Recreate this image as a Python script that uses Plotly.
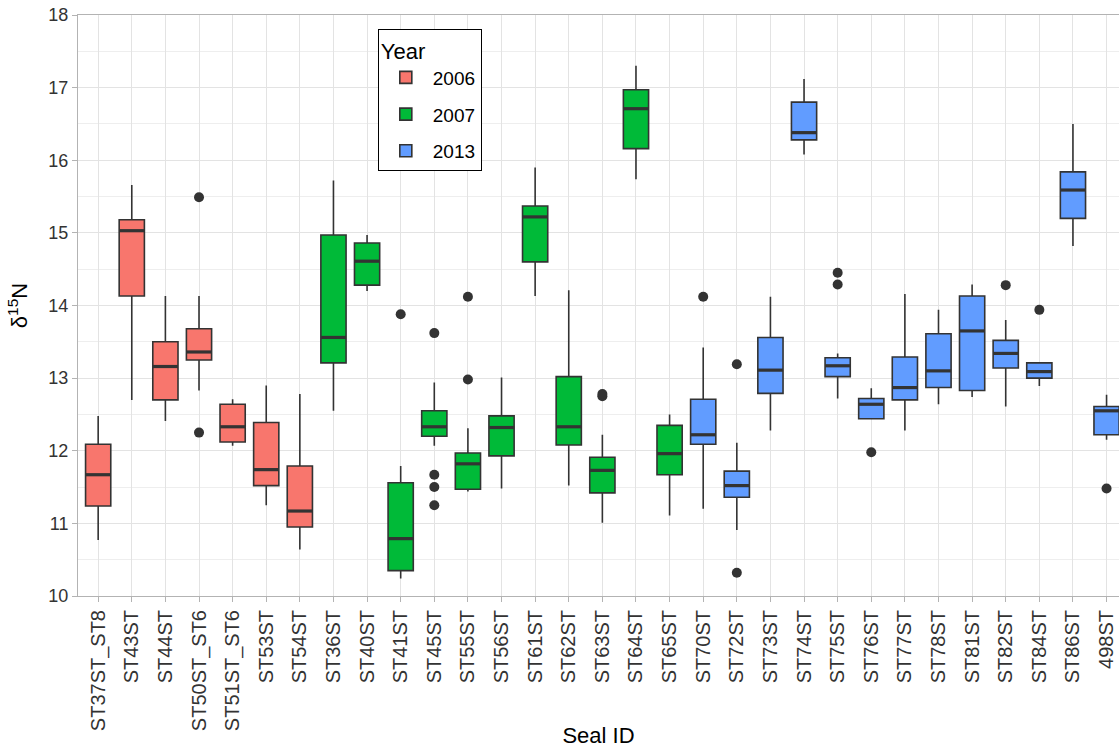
import plotly.graph_objects as go

# ---------------- data ----------------
seal_ids = ["ST37ST_ST8", "ST43ST", "ST44ST", "ST50ST_ST6", "ST51ST_ST6", "ST53ST", "ST54ST",
            "ST36ST", "ST40ST", "ST41ST", "ST45ST", "ST55ST", "ST56ST", "ST61ST", "ST62ST",
            "ST63ST", "ST64ST", "ST65ST",
            "ST70ST", "ST72ST", "ST73ST", "ST74ST", "ST75ST", "ST76ST", "ST77ST", "ST78ST",
            "ST81ST", "ST82ST", "ST84ST", "ST86ST", "498ST"]
years = ["2006", "2006", "2006", "2006", "2006", "2006", "2006",
         "2007", "2007", "2007", "2007", "2007", "2007", "2007", "2007", "2007", "2007", "2007",
         "2013", "2013", "2013", "2013", "2013", "2013", "2013", "2013", "2013", "2013", "2013",
         "2013", "2013"]
lower = [10.77, 12.70, 12.41, 12.83, 12.07, 11.25, 10.64,
         12.55, 14.20, 10.24, 12.07, 11.44, 11.48, 14.13, 11.52, 11.01, 15.74, 11.11,
         11.20, 10.91, 12.28, 16.08, 12.72, 12.44, 12.28, 12.64, 12.74, 12.61, 12.89, 14.82, 12.15]
q1 = [11.24, 14.13, 12.70, 13.25, 12.12, 11.52, 10.95,
      13.21, 14.28, 10.35, 12.20, 11.47, 11.93, 14.60, 12.08, 11.42, 16.16, 11.67,
      12.09, 11.36, 12.79, 16.28, 13.02, 12.44, 12.70, 12.87, 12.83, 13.14, 13.00, 15.20, 12.22]
median = [11.67, 15.03, 13.16, 13.36, 12.33, 11.74, 11.17,
          13.56, 14.61, 10.79, 12.33, 11.82, 12.32, 15.22, 12.33, 11.73, 16.71, 11.96,
          12.22, 11.52, 13.11, 16.38, 13.17, 12.64, 12.87, 13.10, 13.65, 13.34, 13.09, 15.59, 12.55]
q3 = [12.09, 15.18, 13.50, 13.68, 12.64, 12.39, 11.79,
      14.97, 14.86, 11.56, 12.55, 11.97, 12.48, 15.37, 13.02, 11.91, 16.97, 12.35,
      12.71, 11.72, 13.56, 16.80, 13.28, 12.72, 13.29, 13.61, 14.13, 13.52, 13.21, 15.84, 12.61]
upper = [12.48, 15.66, 14.13, 14.13, 12.71, 12.90, 12.78,
         15.72, 14.97, 11.79, 12.94, 12.31, 13.01, 15.90, 14.21, 12.22, 17.30, 12.50,
         13.42, 12.11, 14.12, 17.12, 13.34, 12.86, 14.16, 13.94, 14.29, 13.80, 13.21, 16.50, 12.77]

outlier_ids = ["ST50ST_ST6", "ST50ST_ST6", "ST41ST", "ST45ST", "ST45ST", "ST45ST", "ST45ST",
               "ST55ST", "ST55ST", "ST63ST", "ST63ST", "ST70ST", "ST72ST", "ST72ST",
               "ST75ST", "ST75ST", "ST76ST", "ST82ST", "ST84ST", "498ST"]
outlier_vals = [15.49, 12.25, 13.88, 13.62, 11.67, 11.50, 11.25,
                14.12, 12.98, 12.75, 12.78, 14.12, 13.19, 10.32,
                14.45, 14.29, 11.98, 14.28, 13.94, 11.48]

year_levels = ["2006", "2007", "2013"]
year_colors = {"2006": "#F8766D", "2007": "#00BA38", "2013": "#619CFF"}

# ---------------- styling ----------------
DARK = "#333333"
BOX_W = 0.75
FONT = "Liberation Sans, Arial, sans-serif"

fig = go.Figure()
pos = list(range(len(seal_ids)))

for yr in year_levels:
    idx = [i for i, y in enumerate(years) if y == yr]
    fig.add_trace(go.Box(
        x=[pos[i] for i in idx],
        q1=[q1[i] for i in idx],
        median=[median[i] for i in idx],
        q3=[q3[i] for i in idx],
        lowerfence=[lower[i] for i in idx],
        upperfence=[upper[i] for i in idx],
        name=yr, legendgroup=yr,
        fillcolor=year_colors[yr],
        line=dict(color=DARK, width=1.6),
        whiskerwidth=0, width=BOX_W,
        boxpoints=False, hoverinfo="skip",
    ))

# thicker median bars (ggplot style)
mx, my = [], []
for i, m in enumerate(median):
    mx += [pos[i] - BOX_W / 2, pos[i] + BOX_W / 2, None]
    my += [m, m, None]
fig.add_trace(go.Scatter(x=mx, y=my, mode="lines", line=dict(color=DARK, width=3.2),
                         showlegend=False, hoverinfo="skip"))

# outliers
fig.add_trace(go.Scatter(
    x=[seal_ids.index(s) for s in outlier_ids], y=outlier_vals, mode="markers",
    marker=dict(color=DARK, size=10), showlegend=False, hoverinfo="skip"))

axis_common = dict(
    showline=True, linecolor="#B3B3B3", linewidth=1, mirror=True,
    ticks="outside", ticklen=5, tickcolor="#B3B3B3", tickwidth=1,
    showgrid=True, gridcolor="#E3E3E3", gridwidth=1, zeroline=False,
    automargin=False,
)

fig.update_layout(
    width=1119, height=748,
    margin=dict(l=78, r=0, t=15, b=152),
    paper_bgcolor="white", plot_bgcolor="white",
    font=dict(family=FONT, color="black"),
    boxmode="overlay",
    xaxis=dict(range=[-0.6, 30.37], tickmode="array", tickvals=pos, ticktext=seal_ids,
               tickangle=-90,
               tickfont=dict(family=FONT, size=20, color="#333333"),
               title=dict(text="Seal ID", font=dict(family=FONT, size=22, color="black"),
                          standoff=2),
               **axis_common),
    yaxis=dict(range=[10, 18], dtick=1, tick0=10,
               tickfont=dict(family=FONT, size=18, color="#333333"),
               minor=dict(dtick=0.5, showgrid=True, gridcolor="#EEEEEE", gridwidth=0.8),
               title=dict(text="δ<sup>15</sup>N", font=dict(family=FONT, size=22, color="black"),
                          standoff=14),
               **axis_common),
    legend=dict(x=0.288, y=0.976, xanchor="left", yanchor="top",
                bgcolor="white", bordercolor="black", borderwidth=1,
                font=dict(family=FONT, size=19, color="black"),
                title=dict(text="Year  ", font=dict(family=FONT, size=22, color="black")),
                tracegroupgap=9, itemwidth=44),
    showlegend=True,
)

fig.write_html("out.html")
